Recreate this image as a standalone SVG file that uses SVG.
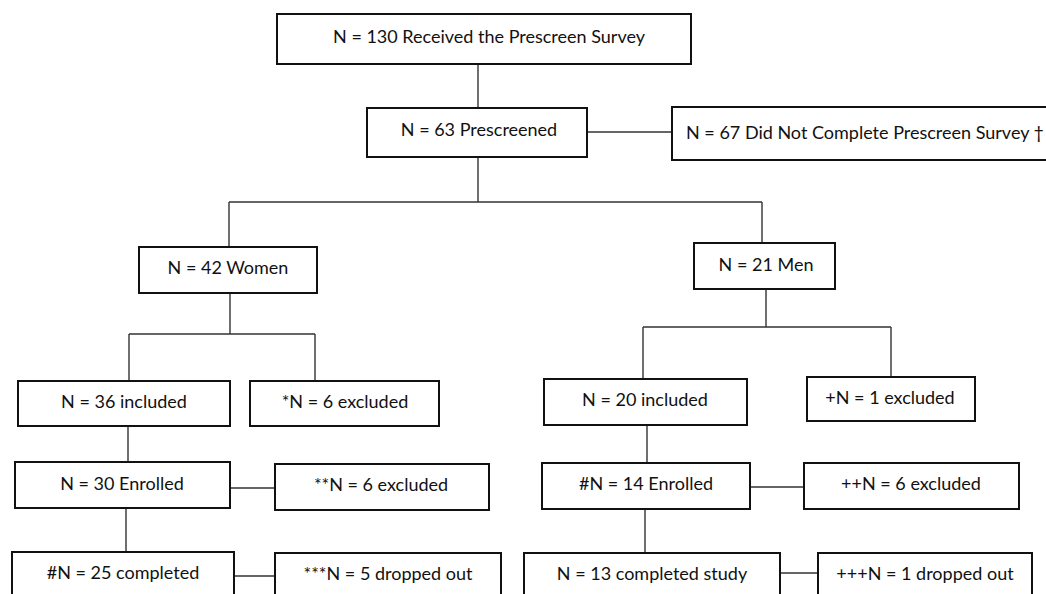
<svg xmlns="http://www.w3.org/2000/svg" width="1046" height="594" viewBox="0 0 1046 594">
<style>
.b{fill:#fff;stroke:#111;stroke-width:2}
.t{font-family:Lato,"Liberation Sans",sans-serif;font-size:18px;fill:#111;text-anchor:middle;dominant-baseline:central}
.c{fill:none;stroke:#333;stroke-width:1.4}
</style>
<rect width="1046" height="594" fill="#fff"/>
<g id="connectors">
<path class="c" d="M478 64V108"/>
<path class="c" d="M587 132H672"/>
<path class="c" d="M478 157V202M229 202H762M229 202V247M762 202V243"/>
<path class="c" d="M230 293V334M129 334H315M129 334V381M315 334V381"/>
<path class="c" d="M766 289V327M643 327H891M643 327V379M891 327V377"/>
<path class="c" d="M128 426V462M230 488H275M126 508V552M234 576H275"/>
<path class="c" d="M647 425V463M750 487H804M645 509V553M780 573H818"/>
</g>
<g id="n1"><rect class="b" x="277" y="14" width="414" height="50"/><text class="t" x="489" y="36">N = 130 Received the Prescreen Survey</text></g>
<g id="n2"><rect class="b" x="367" y="108" width="220" height="49"/><text class="t" x="479" y="129">N = 63 Prescreened</text></g>
<g id="n3"><rect class="b" x="672" y="107" width="390" height="53"/><text class="t" x="686" y="132" style="text-anchor:start">N = 67 Did Not Complete Prescreen Survey †</text></g>
<g id="n4"><rect class="b" x="139" y="247" width="178" height="46"/><text class="t" x="228" y="267">N = 42 Women</text></g>
<g id="n5"><rect class="b" x="694" y="243" width="141" height="46"/><text class="t" x="766" y="264">N = 21 Men</text></g>
<g id="n6"><rect class="b" x="18" y="381" width="212" height="45"/><text class="t" x="124" y="401">N = 36 included</text></g>
<g id="n7"><rect class="b" x="250" y="381" width="189" height="45"/><text class="t" x="345" y="401">*N = 6 excluded</text></g>
<g id="n8"><rect class="b" x="544" y="379" width="203" height="46"/><text class="t" x="645" y="399">N = 20 included</text></g>
<g id="n9"><rect class="b" x="807" y="377" width="168" height="44"/><text class="t" x="890" y="397">+N = 1 excluded</text></g>
<g id="n10"><rect class="b" x="15" y="462" width="215" height="46"/><text class="t" x="122" y="483">N = 30 Enrolled</text></g>
<g id="n11"><rect class="b" x="275" y="464" width="214" height="46"/><text class="t" x="381" y="484">**N = 6 excluded</text></g>
<g id="n12"><rect class="b" x="542" y="463" width="208" height="46"/><text class="t" x="646" y="483">#N = 14 Enrolled</text></g>
<g id="n13"><rect class="b" x="804" y="463" width="215" height="46"/><text class="t" x="911" y="483">++N = 6 excluded</text></g>
<g id="n14"><rect class="b" x="12" y="552" width="222" height="60"/><text class="t" x="123" y="572">#N = 25 completed</text></g>
<g id="n15"><rect class="b" x="275" y="553" width="226" height="60"/><text class="t" x="388" y="573">***N = 5 dropped out</text></g>
<g id="n16"><rect class="b" x="524" y="553" width="256" height="60"/><text class="t" x="652" y="573">N = 13 completed study</text></g>
<g id="n17"><rect class="b" x="818" y="553" width="214" height="60"/><text class="t" x="925" y="573">+++N = 1 dropped out</text></g>
</svg>
